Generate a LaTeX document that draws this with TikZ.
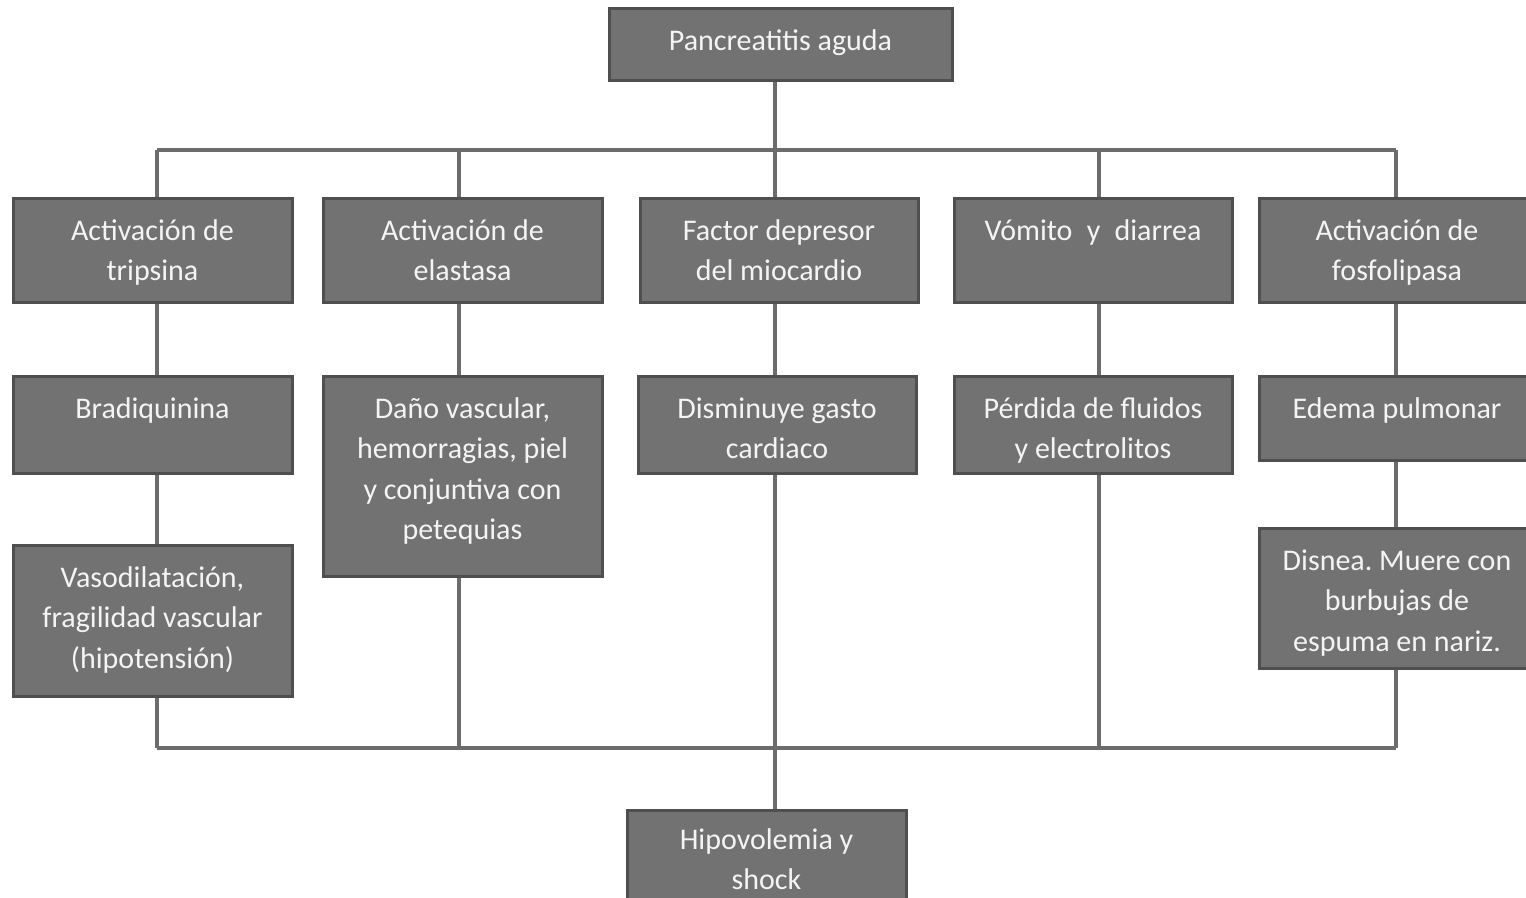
\documentclass[tikz,border=0pt]{standalone}
\usepackage{fontspec}
\setmainfont{Carlito}
\frenchspacing
\usetikzlibrary{calc,backgrounds}
\definecolor{boxfill}{HTML}{727272}
\definecolor{boxdraw}{HTML}{4F4F4F}
\definecolor{linecol}{HTML}{6C6C6C}
\definecolor{txtcol}{HTML}{F4F4F4}
\tikzset{
 box/.style={draw=boxdraw, line width=3pt, fill=boxfill, rectangle, inner sep=0pt},
 txt/.style={text=txtcol, align=center, inner sep=0pt, anchor=north, font=\fontsize{30}{40.5}\selectfont},
 conn/.style={draw=linecol, line width=4.5pt},
}
\newcommand{\boxnode}[7][15]{%
 \node[box, minimum width={#5-#3}, minimum height={#6-#4}] (#2) at ({(#3+#5)/2},{(#4+#6)/2}) {};
 \node[txt] (#2t) at ($(#2.north)+(0,#1)$) {\strut #7};
}
\begin{document}
\begin{tikzpicture}[x=1pt,y=-1pt]
\clip (0,0) rectangle (1526,897);
\boxnode{top}{609}{8}{952}{80}{Pancreatitis aguda}
\boxnode{ra1}{13}{198}{292}{302}{Activación de\\tripsina}
\boxnode{ra2}{323}{198}{602}{302}{Activación de\\elastasa}
\boxnode{ra3}{640}{198}{918}{302}{Factor depresor\\del miocardio}
\boxnode{ra4}{954}{198}{1232}{302}{Vómito\hspace{0.25em} y\hspace{0.25em} diarrea}
\boxnode{ra5}{1259}{198}{1535}{302}{Activación de\\fosfolipasa}
\boxnode{rb1}{13}{376}{292}{473}{Bradiquinina}
\boxnode{rb2}{323}{376}{602}{576}{Daño vascular,\\hemorragias, piel\\y conjuntiva con\\petequias}
\boxnode{rb3}{638}{376}{916}{473}{Disminuye gasto\\cardiaco}
\boxnode{rb4}{954}{376}{1232}{473}{Pérdida de fluidos\\y electrolitos}
\boxnode{rb5}{1259}{376}{1535}{460}{Edema pulmonar}
\boxnode{rc1}{13}{545}{292}{696}{Vasodilatación,\\fragilidad vascular\\(hipotensión)}
\boxnode{rc5}{1259}{528}{1535}{668}{Disnea. Muere con\\burbujas de\\espuma en nariz.}
\boxnode[12]{bot}{627}{810}{906}{930}{Hipovolemia y\\shock}
\coordinate (c1) at (157,0);
\coordinate (c2) at (459,0);
\coordinate (c3) at (775,0);
\coordinate (c4) at (1099,0);
\coordinate (c5) at (1396,0);
\coordinate (busT) at (0,150);
\coordinate (busB) at (0,748);
\begin{scope}[on background layer]
\fill[white] (0,0) rectangle (1526,897);
\draw[conn] (top.south -| c3) -- (ra3.north -| c3);
\draw[conn] (busT -| c1) -- (busT -| c5);
\draw[conn] (busT -| c1) -- (ra1.north -| c1);
\draw[conn] (busT -| c2) -- (ra2.north -| c2);
\draw[conn] (busT -| c4) -- (ra4.north -| c4);
\draw[conn] (busT -| c5) -- (ra5.north -| c5);
\draw[conn] (ra1.south -| c1) -- (rb1.north -| c1);
\draw[conn] (ra2.south -| c2) -- (rb2.north -| c2);
\draw[conn] (ra3.south -| c3) -- (rb3.north -| c3);
\draw[conn] (ra4.south -| c4) -- (rb4.north -| c4);
\draw[conn] (ra5.south -| c5) -- (rb5.north -| c5);
\draw[conn] (rb1.south -| c1) -- (rc1.north -| c1);
\draw[conn] (rb5.south -| c5) -- (rc5.north -| c5);
\draw[conn] (rc1.south -| c1) -- (busB -| c1);
\draw[conn] (rb2.south -| c2) -- (busB -| c2);
\draw[conn] (rb3.south -| c3) -- (busB -| c3);
\draw[conn] (rb4.south -| c4) -- (busB -| c4);
\draw[conn] (rc5.south -| c5) -- (busB -| c5);
\draw[conn] (busB -| c1) -- (busB -| c5);
\draw[conn] (busB -| c3) -- (bot.north -| c3);
\end{scope}
\end{tikzpicture}
\end{document}
